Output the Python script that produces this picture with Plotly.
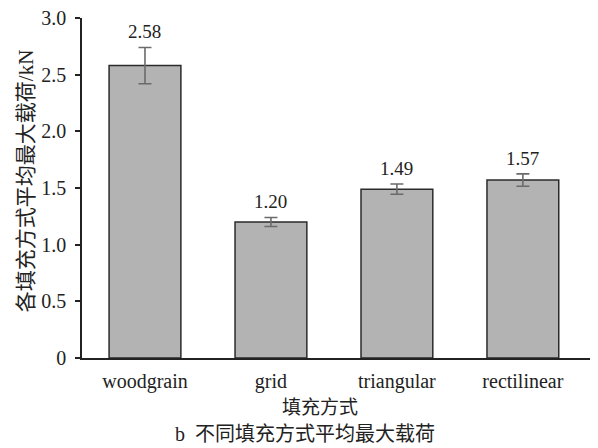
import plotly.graph_objects as go

categories = ["woodgrain", "grid", "triangular", "rectilinear"]
means = [2.58, 1.20, 1.49, 1.57]
errors = [0.16, 0.04, 0.045, 0.055]
labels = ["2.58", "1.20", "1.49", "1.57"]
y_ticks = [0, 0.5, 1.0, 1.5, 2.0, 2.5, 3.0]
y_tick_text = ["0", "0.5", "1.0", "1.5", "2.0", "2.5", "3.0"]

FONT = "Liberation Serif, Noto Sans CJK SC"

fig = go.Figure()
fig.add_trace(go.Bar(
    x=categories, y=means, width=0.57,
    marker=dict(color="#b3b3b3", line=dict(color="#2b2b2b", width=1.5)),
    error_y=dict(type="data", array=errors, visible=True, color="#6b6b6b", thickness=1.6, width=6.5),
    showlegend=False, hoverinfo="skip",
))

annotations = [
    dict(x=c, y=m + e, xref="x", yref="y", text=t, showarrow=False,
         yanchor="bottom", yshift=3, font=dict(family=FONT, size=19, color="#222"))
    for c, m, e, t in zip(categories, means, errors, labels)
]
annotations.append(dict(
    text="填充方式", xref="paper", yref="paper", x=0.454, y=0, yshift=-37,
    yanchor="top", showarrow=False, font=dict(family=FONT, size=19, color="#222"),
))
annotations.append(dict(
    text="b  不同填充方式平均最大载荷", xref="paper", yref="paper",
    x=0.426, y=0, yshift=-63, yanchor="top", showarrow=False,
    font=dict(family=FONT, size=20, color="#222"),
))
annotations.append(dict(
    text="各填充方式平均最大载荷/kN", xref="paper", yref="paper",
    x=0, xshift=-56, y=0.52, textangle=-90, xanchor="center", yanchor="middle",
    showarrow=False, font=dict(family=FONT, size=21, color="#222"),
))

fig.update_layout(
    width=598, height=448,
    margin=dict(l=74, r=0, t=10, b=98, autoexpand=False),
    plot_bgcolor="white", paper_bgcolor="white",
    font=dict(family=FONT, size=18, color="#222"),
    xaxis=dict(
        range=[-0.5, 3.66], showline=True, linecolor="#222", linewidth=1.5,
        ticks="", showgrid=False, zeroline=False, automargin=False,
        tickfont=dict(size=20), ticklabelstandoff=4,
    ),
    yaxis=dict(
        range=[0, 3.0], tickvals=y_ticks, ticktext=y_tick_text,
        showline=True, linecolor="#222", linewidth=1.5,
        ticks="outside", ticklen=5, tickcolor="#222", tickwidth=1.5,
        showgrid=False, zeroline=False, automargin=False,
        tickfont=dict(size=20), ticklabelstandoff=5, ticklabeloverflow="allow",
    ),
    annotations=annotations,
)

fig.write_html("out.html")
